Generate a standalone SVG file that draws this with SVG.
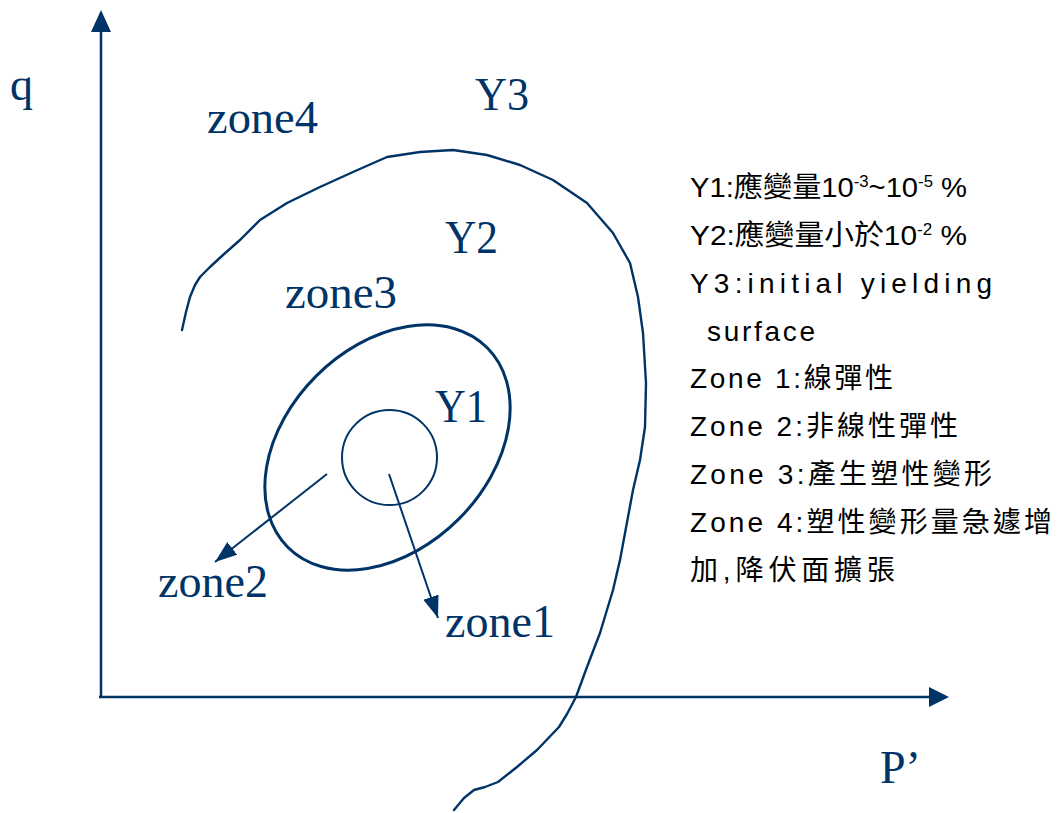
<svg xmlns="http://www.w3.org/2000/svg" width="1064" height="813" viewBox="0 0 1064 813">
<style>
.lbl{font-family:"Liberation Serif","Times New Roman",serif;fill:#003366;font-size:46px}
.note{font-family:"Liberation Sans","Noto Sans CJK TC",sans-serif;fill:#000;font-size:28px}
.ln{fill:none;stroke:#003366}
</style>
<defs>
<marker id="ah" markerUnits="userSpaceOnUse" markerWidth="24" markerHeight="20" refX="22" refY="10" orient="auto">
<path d="M0,2 L22,10 L0,18 Z" fill="#003366"/>
</marker>
</defs>
<rect width="1064" height="813" fill="#fff"/>
<g id="axes">
<line class="ln" x1="101" y1="697" x2="101" y2="28" stroke-width="2.5"/>
<path d="M101,10 L91,32 L111,32 Z" fill="#003366"/>
<line class="ln" x1="99" y1="697" x2="931" y2="697" stroke-width="2.5"/>
<path d="M949,697 L929,687 L929,707 Z" fill="#003366"/>
</g>
<g id="Y3">
<polyline class="ln" stroke-width="2.4" stroke-linejoin="round" stroke-linecap="round" points="182,330 186,312 190,297 195,285 200,277 210,267 223,255 240,240 260,220 287,203 320,187 353,172 387,157 420,152 453,150 487,155 520,165 553,180 587,203 613,233 630,263 638,297 643,333 646,383 645,427 640,460 633,490 628,517 620,560 613,590 600,633 587,667 576,697 567,714 559,727 537,750 517,767 498,782 485,787 474,790 464,798 454,810"/>
</g>
<g id="Y2">
<ellipse class="ln" cx="387.5" cy="447.5" rx="141" ry="101" transform="rotate(-45 387.5 447.5)" stroke-width="3"/>
</g>
<g id="Y1">
<circle class="ln" cx="389.5" cy="457.5" r="47.5" stroke-width="2"/>
</g>
<g id="connectors">
<line class="ln" x1="327" y1="474" x2="215" y2="562" stroke-width="2" marker-end="url(#ah)"/>
<line class="ln" x1="389" y1="474" x2="438" y2="618" stroke-width="2" marker-end="url(#ah)"/>
</g>
<g id="labels">
<text class="lbl" x="10" y="100">q</text>
<text class="lbl" x="207" y="133" textLength="111" lengthAdjust="spacingAndGlyphs">zone4</text>
<text class="lbl" x="475" y="110" textLength="54" lengthAdjust="spacingAndGlyphs">Y3</text>
<text class="lbl" x="445" y="253" textLength="53" lengthAdjust="spacingAndGlyphs">Y2</text>
<text class="lbl" x="285" y="308" textLength="112" lengthAdjust="spacingAndGlyphs">zone3</text>
<text class="lbl" x="435" y="422" textLength="52" lengthAdjust="spacingAndGlyphs">Y1</text>
<text class="lbl" x="158" y="597" textLength="110" lengthAdjust="spacingAndGlyphs">zone2</text>
<text class="lbl" x="445" y="637" textLength="110" lengthAdjust="spacingAndGlyphs">zone1</text>
<text class="lbl" x="880" y="783">P’</text>
</g>
<g id="legend">
<text class="note" x="690" y="197" textLength="277" lengthAdjust="spacingAndGlyphs">Y1:應變量10<tspan font-size="16" dy="-10">-3</tspan><tspan dy="10">~10</tspan><tspan font-size="16" dy="-10">-5</tspan><tspan dy="10"> %</tspan></text>
<text class="note" x="690" y="245" textLength="277" lengthAdjust="spacingAndGlyphs">Y2:應變量小於10<tspan font-size="16" dy="-10">-2</tspan><tspan dy="10"> %</tspan></text>
<text class="note" x="690" y="293" textLength="302" lengthAdjust="spacing">Y3:initial yielding</text>
<text class="note" x="707" y="341" textLength="108" lengthAdjust="spacing">surface</text>
<text class="note" x="690" y="388" textLength="203" lengthAdjust="spacing">Zone 1:線彈性</text>
<text class="note" x="690" y="436" textLength="268" lengthAdjust="spacing">Zone 2:非線性彈性</text>
<text class="note" x="690" y="484" textLength="302" lengthAdjust="spacing">Zone 3:產生塑性變形</text>
<text class="note" x="690" y="532" textLength="362" lengthAdjust="spacing">Zone 4:塑性變形量急遽增</text>
<text class="note" x="690" y="580" textLength="205" lengthAdjust="spacing">加,降伏面擴張</text>
</g>
</svg>
